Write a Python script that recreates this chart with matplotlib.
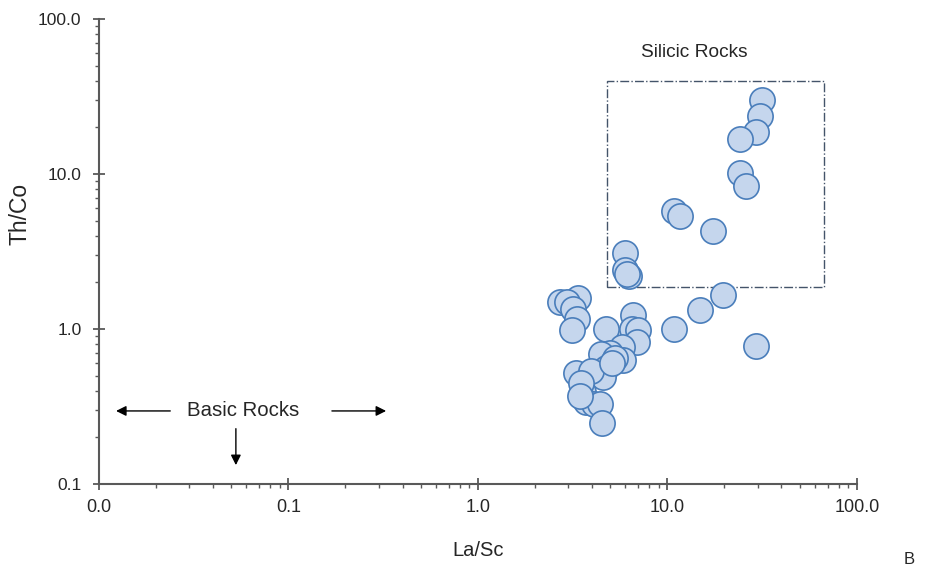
import matplotlib
matplotlib.use("Agg")
import matplotlib.pyplot as plt
from matplotlib.patches import Rectangle
from matplotlib.ticker import FixedLocator, LogLocator, FuncFormatter, NullFormatter

plt.rcParams['font.family'] = ['Liberation Sans', 'DejaVu Sans']

# Data: La/Sc (x) vs Th/Co (y)
la_sc = [31.5, 31.0, 29.3, 24.1, 24.1, 26.0, 10.9, 11.6, 17.4, 6.0, 6.0, 6.3, 6.1,
         19.7, 14.8, 10.9, 29.3,
         2.71, 3.36, 2.97, 3.19, 3.32, 3.15, 4.72, 6.6, 6.47, 7.0, 6.88,
         5.73, 5.8, 4.97, 4.45, 4.77, 4.58, 3.29, 3.95, 3.6, 3.74, 4.1, 4.4,
         4.54, 3.52, 5.3, 5.1, 3.45]
th_co = [30.0, 23.7, 18.7, 16.8, 10.1, 8.4, 5.8, 5.35, 4.3, 3.1, 2.4, 2.2, 2.25,
         1.66, 1.33, 1.0, 0.78,
         1.5, 1.58, 1.49, 1.34, 1.155, 0.985, 1.0, 1.24, 1.0, 0.985, 0.83,
         0.76, 0.63, 0.70, 0.686, 0.56, 0.49, 0.52, 0.536, 0.394, 0.34, 0.33, 0.33,
         0.246, 0.446, 0.65, 0.60, 0.37]

x_ticks = [0.01, 0.1, 1, 10, 100]
x_tick_labels = ["0.0", "0.1", "1.0", "10.0", "100.0"]
y_ticks = [0.1, 1, 10, 100]
y_tick_labels = ["0.1", "1.0", "10.0", "100.0"]

fig = plt.figure(figsize=(9.38, 5.67), dpi=100)
ax = fig.add_axes([0.1055, 0.1464, 0.808, 0.8201])
ax.set_xscale('log')
ax.set_yscale('log')
ax.set_xlim(0.01, 100)
ax.set_ylim(0.1, 100)

ax.scatter(la_sc, th_co, s=330, facecolor='#c5d6ed', edgecolor='#4a7ebb',
           linewidth=1.2, zorder=3)

# Silicic rocks box
ax.add_patch(Rectangle((4.8, 1.87), 67 - 4.8, 40 - 1.87, fill=False,
                       edgecolor='#44546a', linestyle='-.', linewidth=1.0, zorder=2))
ax.text(13.8, 61, "Silicic Rocks", ha='center', va='center', fontsize=13.8, color='#262626')

# Basic rocks annotation
ax.text(0.058, 0.296, "Basic Rocks", ha='center', va='center', fontsize=14.7, color='#262626')
ap = dict(arrowstyle='-|>', color='black', lw=1.0, mutation_scale=15)
ax.annotate("", xy=(0.0119, 0.296), xytext=(0.0246, 0.296), arrowprops=ap)
ax.annotate("", xy=(0.339, 0.296), xytext=(0.164, 0.296), arrowprops=ap)
ax.annotate("", xy=(0.0528, 0.127), xytext=(0.0528, 0.237), arrowprops=ap)

for s in ['top', 'right']:
    ax.spines[s].set_visible(False)
for s in ['left', 'bottom']:
    ax.spines[s].set_color('#595959')
    ax.spines[s].set_linewidth(1.5)

ax.xaxis.set_major_locator(FixedLocator(x_ticks))
ax.xaxis.set_major_formatter(FuncFormatter(lambda v, p: x_tick_labels[x_ticks.index(v)] if v in x_ticks else ""))
ax.yaxis.set_major_locator(FixedLocator(y_ticks))
ax.yaxis.set_major_formatter(FuncFormatter(lambda v, p: y_tick_labels[y_ticks.index(v)] if v in y_ticks else ""))
for axis in (ax.xaxis, ax.yaxis):
    axis.set_minor_locator(LogLocator(base=10, subs=range(2, 10)))
    axis.set_minor_formatter(NullFormatter())

ax.tick_params(which='major', direction='inout', length=9, width=1.3, color='#595959',
               labelsize=13, labelcolor='#262626', pad=6)
ax.tick_params(axis='y', which='major', labelsize=12.5, pad=8)
ax.tick_params(which='minor', direction='out', length=3.0, width=1.0, color='#595959')

ax.set_xlabel("La/Sc", fontsize=14.5, color='#262626')
ax.set_ylabel("Th/Co", fontsize=16.5, color='#262626')
ax.xaxis.set_label_coords(0.5, -0.122)
ax.yaxis.set_label_coords(-0.0885, 0.581)
fig.text(909 / 938, 1 - 560 / 567, "B", ha='center', va='center', fontsize=12, color='#262626')

fig.savefig("out.png", dpi=100)
